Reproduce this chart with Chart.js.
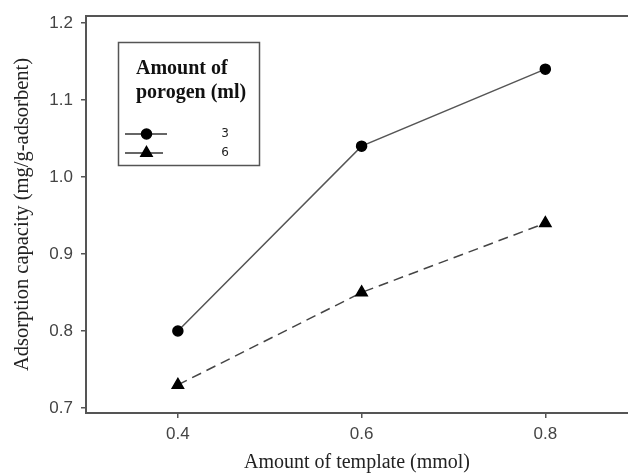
<!DOCTYPE html>
<html>
<head>
<meta charset="utf-8">
<script src="https://cdn.jsdelivr.net/npm/chart.js@4/dist/chart.umd.min.js"></script>
<style>
html,body{margin:0;padding:0;background:#fff;}
#wrap{width:628px;height:475px;position:relative;}
</style>
</head>
<body>
<div id="wrap"><canvas id="c" width="628" height="475"></canvas></div>
<script>
const templateAmounts = [0.4, 0.6, 0.8];
const porogen3 = [0.80, 1.04, 1.14];
const porogen6 = [0.73, 0.85, 0.94];
const seriesLabels = ['3', '6'];
const xTicks = [0.4, 0.6, 0.8];
const yTicks = [0.7, 0.8, 0.9, 1.0, 1.1, 1.2];
const legendTitle = ['Amount of', 'porogen (ml)'];
const xTitle = 'Amount of template (mmol)';
const yTitle = 'Adsorption capacity (mg/g-adsorbent)';

const toPts = (ys) => templateAmounts.map((x, i) => ({x: x, y: ys[i]}));

const legendBox = {
  id: 'legendBox',
  afterDraw(chart) {
    const ctx = chart.ctx;
    ctx.save();
    ctx.strokeStyle = '#555';
    ctx.lineWidth = 1.5;
    ctx.strokeRect(118.5, 42.5, 141, 123);
    ctx.fillStyle = '#111';
    ctx.font = 'bold 20px "Liberation Serif", "Times New Roman", serif';
    ctx.textBaseline = 'alphabetic';
    ctx.textAlign = 'left';
    ctx.fillText(legendTitle[0], 136, 74);
    ctx.fillText(legendTitle[1], 136, 98);
    const rows = [{y: 134, x2: 167}, {y: 153, x2: 163}];
    chart.data.datasets.forEach((ds, i) => {
      const r = rows[i];
      ctx.beginPath();
      ctx.setLineDash([]);
      ctx.strokeStyle = '#333';
      ctx.lineWidth = 1.5;
      ctx.moveTo(125, r.y);
      ctx.lineTo(r.x2, r.y);
      ctx.stroke();
      ctx.fillStyle = '#000';
      ctx.strokeStyle = '#000';
      Chart.helpers.drawPoint(ctx, {pointStyle: ds.pointStyle, radius: ds.pointRadius, borderWidth: 1, rotation: 0}, 146.5, r.y);
      ctx.fillStyle = '#222';
      ctx.font = '12px "DejaVu Sans", sans-serif';
      ctx.textBaseline = 'middle';
      ctx.textAlign = 'center';
      ctx.fillText(ds.label, 225, r.y);
    });
    // top frame line
    const a = chart.chartArea;
    ctx.beginPath();
    ctx.strokeStyle = '#555';
    ctx.lineWidth = 2;
    ctx.moveTo(a.left - 1, a.top);
    ctx.lineTo(a.right, a.top);
    ctx.stroke();
    ctx.restore();
  }
};

new Chart(document.getElementById('c'), {
  type: 'line',
  data: {
    datasets: [
      {
        label: seriesLabels[0],
        data: toPts(porogen3),
        borderColor: '#555',
        borderWidth: 1.5,
        pointStyle: 'circle',
        pointRadius: 5,
        pointBackgroundColor: '#000',
        pointBorderColor: '#000',
        tension: 0
      },
      {
        label: seriesLabels[1],
        data: toPts(porogen6),
        borderColor: '#444',
        borderWidth: 1.5,
        borderDash: [10, 6],
        pointStyle: 'triangle',
        pointRadius: 6.5,
        pointBackgroundColor: '#000',
        pointBorderColor: '#000',
        tension: 0
      }
    ]
  },
  options: {
    responsive: false,
    animation: false,
    devicePixelRatio: 1,
    layout: {autoPadding: false, padding: {top: 16, left: 0, right: 0, bottom: 0}},
    plugins: {legend: {display: false}, tooltip: {enabled: false}},
    scales: {
      x: {
        type: 'linear',
        min: 0.3,
        max: 0.89,
        afterBuildTicks: (s) => { s.ticks = xTicks.map(v => ({value: v})); },
        afterFit: (s) => { s.height = 62; s.paddingLeft = 0; s.paddingRight = 0; },
        grid: {display: true, drawOnChartArea: false, drawTicks: true, tickLength: 5, color: '#555', lineWidth: 1.5},
        border: {display: true, color: '#555', width: 2},
        ticks: {
          padding: 6,
          color: '#444',
          font: {family: '"Liberation Sans", Arial, sans-serif', size: 17},
          callback: (v) => Number(v).toFixed(1),
          maxRotation: 0
        },
        title: {
          display: true,
          text: xTitle,
          color: '#222',
          font: {family: '"Liberation Serif", "Times New Roman", serif', size: 20},
          padding: {top: 0, bottom: 0}
        }
      },
      y: {
        min: 0.6935,
        max: 1.209,
        afterBuildTicks: (s) => { s.ticks = yTicks.map(v => ({value: v})); },
        afterFit: (s) => { s.width = 86; s.paddingTop = 0; s.paddingBottom = 0; },
        grid: {display: true, drawOnChartArea: false, drawTicks: true, tickLength: 5, color: '#555', lineWidth: 1.5},
        border: {display: true, color: '#555', width: 2},
        ticks: {
          padding: 8,
          color: '#444',
          font: {family: '"Liberation Sans", Arial, sans-serif', size: 17},
          callback: (v) => Number(v).toFixed(1)
        },
        title: {
          display: true,
          text: yTitle,
          color: '#222',
          font: {family: '"Liberation Serif", "Times New Roman", serif', size: 20.5},
          padding: {top: 10, bottom: 0}
        }
      }
    }
  },
  plugins: [legendBox]
});
</script>
</body>
</html>
